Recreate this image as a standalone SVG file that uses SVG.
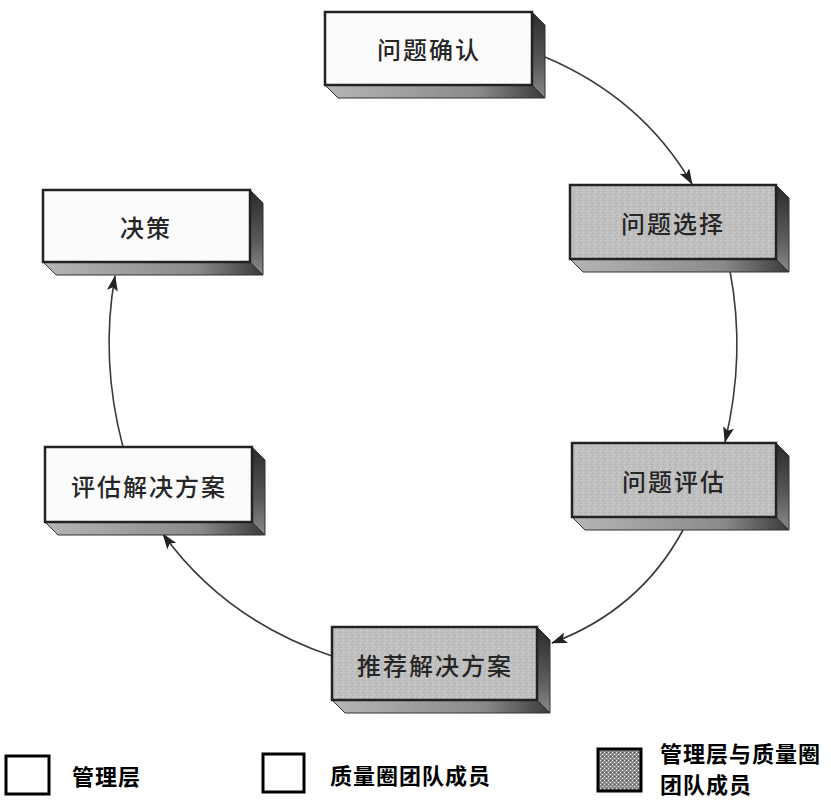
<svg xmlns="http://www.w3.org/2000/svg" width="831" height="801" viewBox="0 0 831 801">
  <defs>
    <style>
      .front-white { fill: #fbfbfb; stroke: #222; stroke-width: 2.5; }
      .front-gray { fill: url(#stipple); stroke: #222; stroke-width: 2.5; }
      .side { fill: url(#sideShade); stroke: #333; stroke-width: 1; }
      .bottom { fill: url(#bottomShade); stroke: #333; stroke-width: 1; }
      .label { font-family: "Noto Sans CJK SC", "Noto Sans", sans-serif; font-size: 24px; font-weight: 500; letter-spacing: 2px; fill: #262626; text-anchor: middle; dominant-baseline: central; }
      .conn { fill: none; stroke: #3a3a3a; stroke-width: 1.6; marker-end: url(#arrow); }
      .legend-text { font-family: "Noto Sans CJK SC", "Noto Sans", sans-serif; font-size: 22px; font-weight: 700; fill: #000; dominant-baseline: central; letter-spacing: 1px; }
      .legend-box { fill: #fff; stroke: #000; stroke-width: 3; }
    </style>
    <linearGradient id="sideShade" x1="0" y1="0" x2="0" y2="1">
      <stop offset="0" stop-color="#2a2a2a"/>
      <stop offset="0.6" stop-color="#5a5a5a"/>
      <stop offset="1" stop-color="#8a8a8a"/>
    </linearGradient>
    <linearGradient id="bottomShade" x1="0" y1="0" x2="1" y2="0">
      <stop offset="0" stop-color="#b5b5b5"/>
      <stop offset="0.7" stop-color="#8a8a8a"/>
      <stop offset="1" stop-color="#3a3a3a"/>
    </linearGradient>
    <pattern id="stipple" width="6" height="6" patternUnits="userSpaceOnUse">
      <rect width="6" height="6" fill="#bfbfbf"/>
      <rect x="0" y="0" width="1" height="1" fill="#d8d8d8"/>
      <rect x="3" y="2" width="1" height="1" fill="#a8a8a8"/>
      <rect x="1" y="4" width="1" height="1" fill="#d2d2d2"/>
      <rect x="4" y="5" width="1" height="1" fill="#adadad"/>
    </pattern>
    <pattern id="legendStipple" width="4" height="4" patternUnits="userSpaceOnUse">
      <rect width="4" height="4" fill="#8c8c8c"/>
      <rect x="0" y="0" width="1" height="1" fill="#ececec"/>
      <rect x="2" y="2" width="1" height="1" fill="#ececec"/>
      <rect x="2" y="0" width="1" height="1" fill="#4a4a4a"/>
    </pattern>
    <marker id="arrow" viewBox="0 0 16 11" refX="15" refY="5.5" markerWidth="16" markerHeight="11" markerUnits="userSpaceOnUse" orient="auto">
      <path d="M0,0 L16,5.5 L0,11 L3.5,5.5 Z" fill="#222"/>
    </marker>
  </defs>

  <rect width="831" height="801" fill="#ffffff"/>

  <!-- connectors around the cycle -->
  <g id="connectors">
    <path class="conn" d="M545,57 Q642,98 692,184"/>
    <path class="conn" d="M730,271 Q746,355 725,442"/>
    <path class="conn" d="M683,530 Q640,610 552,643"/>
    <path class="conn" d="M332,656 Q225,620 163,534"/>
    <path class="conn" d="M123,447 Q100,360 115,276"/>
  </g>

  <!-- 问题确认 -->
  <g id="node-identify">
    <polygon class="side" points="532,12 545,25 545,98 532,85"/>
    <polygon class="bottom" points="325,85 532,85 545,98 338,98"/>
    <rect class="front-white" x="325" y="12" width="207" height="73"/>
    <text class="label" x="429" y="48">问题确认</text>
  </g>

  <!-- 问题选择 -->
  <g id="node-select">
    <polygon class="side" points="776,185 789,198 789,272 776,259"/>
    <polygon class="bottom" points="570,259 776,259 789,272 583,272"/>
    <rect class="front-gray" x="570" y="185" width="206" height="74"/>
    <text class="label" x="673" y="222">问题选择</text>
  </g>

  <!-- 决策 -->
  <g id="node-decide">
    <polygon class="side" points="250,190 263,203 263,275 250,262"/>
    <polygon class="bottom" points="43,262 250,262 263,275 56,275"/>
    <rect class="front-white" x="43" y="190" width="207" height="72"/>
    <text class="label" x="146" y="226">决策</text>
  </g>

  <!-- 问题评估 -->
  <g id="node-evaluate">
    <polygon class="side" points="776,443 789,456 789,530 776,517"/>
    <polygon class="bottom" points="572,517 776,517 789,530 585,530"/>
    <rect class="front-gray" x="572" y="443" width="204" height="74"/>
    <text class="label" x="674" y="480">问题评估</text>
  </g>

  <!-- 评估解决方案 -->
  <g id="node-assess">
    <polygon class="side" points="252,447 265,460 265,535 252,522"/>
    <polygon class="bottom" points="45,522 252,522 265,535 58,535"/>
    <rect class="front-white" x="45" y="447" width="207" height="75"/>
    <text class="label" x="149" y="485">评估解决方案</text>
  </g>

  <!-- 推荐解决方案 -->
  <g id="node-recommend">
    <polygon class="side" points="537,627 550,640 550,713 537,700"/>
    <polygon class="bottom" points="332,700 537,700 550,713 345,713"/>
    <rect class="front-gray" x="332" y="627" width="205" height="73"/>
    <text class="label" x="435" y="664">推荐解决方案</text>
  </g>

  <!-- legend -->
  <g id="legend-management">
    <rect class="legend-box" x="6" y="756" width="43" height="38"/>
    <text class="legend-text" x="72" y="775">管理层</text>
  </g>
  <g id="legend-circle">
    <rect class="legend-box" x="263" y="754" width="41" height="38"/>
    <text class="legend-text" x="330" y="774">质量圈团队成员</text>
  </g>
  <g id="legend-both">
    <rect x="598" y="749" width="43" height="42" fill="url(#legendStipple)" stroke="#000" stroke-width="3"/>
    <text class="legend-text" x="660" y="752">管理层与质量圈</text>
    <text class="legend-text" x="660" y="783">团队成员</text>
  </g>
</svg>
